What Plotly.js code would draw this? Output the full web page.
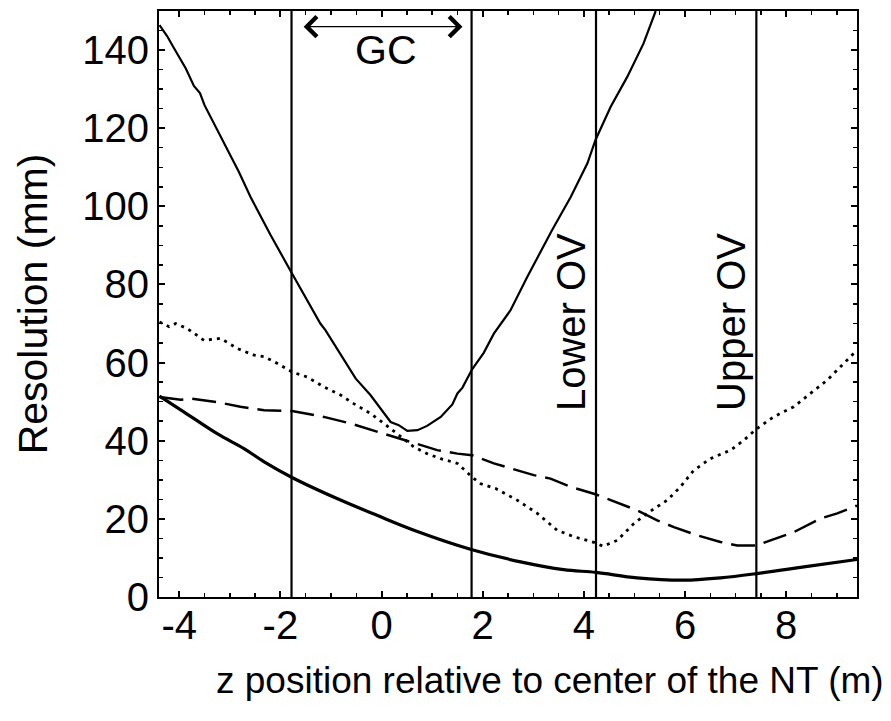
<!DOCTYPE html>
<html>
<head>
<meta charset="utf-8">
<script src="https://cdn.plot.ly/plotly-3.0.1.min.js"></script>
<style>html,body{margin:0;padding:0;background:#fff;}#chart{width:891px;height:721px;}</style>
</head>
<body>
<div id="chart"></div>
<script>
// Thin solid curve (steep V)
const vX = [-4.39,-4.24,-4.10,-3.87,-3.71,-3.59,-3.50,-3.22,-2.82,-2.59,-2.20,-1.77,-1.47,-1.21,-1.11,-0.88,-0.51,-0.22,0.05,0.18,0.34,0.51,0.71,0.90,1.17,1.40,1.50,1.60,1.79,2.02,2.22,2.55,2.88,3.37,3.74,4.07,4.23,4.43,4.53,4.86,5.18,5.42];
const vY = [146.4,143.6,140.4,135.3,130.8,129.0,125.9,118.7,108.8,102.4,92.8,82.8,76.0,70.0,68.3,63.6,55.9,51.7,47.0,44.8,44.0,42.5,42.7,43.8,46.1,49.3,52.1,53.6,58.3,62.5,67.4,73.4,81.9,93.9,102.4,111.0,117.0,122.9,125.5,133.2,141.7,150.0];
// Dotted curve
const dotX = [-4.39,-4.20,-4.07,-3.84,-3.51,-3.18,-2.85,-2.52,-2.32,-2.06,-1.77,-1.47,-1.14,-0.81,-0.55,-0.22,0.05,0.31,0.64,0.90,1.17,1.50,1.79,1.96,2.25,2.68,3.08,3.47,3.81,4.20,4.38,4.66,4.99,5.25,5.65,5.91,6.17,6.50,6.90,7.16,7.42,7.75,8.15,8.48,8.81,9.40];
const dotY = [70.4,69.2,70.0,68.7,65.7,66.2,63.6,61.9,61.5,59.8,57.6,56.3,53.8,51.7,49.5,47.0,44.4,41.8,38.4,36.7,35.4,34.2,30.7,29.0,27.8,24.8,21.4,17.1,15.4,14.0,13.0,14.5,18.8,21.4,24.8,28.2,32.4,35.4,37.6,40.1,43.1,46.1,48.7,52.1,55.5,63.2];
// Dashed curve
const dashX = [-4.39,-3.97,-3.77,-3.25,-2.79,-2.32,-1.77,-1.53,-1.14,-0.61,-0.09,0.44,0.77,1.10,1.50,1.79,2.22,2.55,3.01,3.34,3.74,4.23,4.72,5.05,5.45,5.78,6.24,6.70,7.03,7.42,7.69,8.15,8.68,9.01,9.40];
const dashY = [51.2,50.5,50.8,49.9,48.7,47.8,47.6,47.1,46.1,44.4,42.3,40.1,38.8,37.6,36.7,36.3,34.2,32.9,31.2,30.3,28.2,26.3,23.9,22.2,19.6,17.9,15.8,14.1,13.2,13.2,14.5,16.6,20.1,21.4,23.4];
// Thick solid curve
const thickX = [-4.39,-3.91,-3.25,-2.72,-2.32,-1.77,-0.88,-0.09,0.64,1.79,2.75,3.60,4.24,5.05,5.98,6.70,7.42,8.35,9.40];
const thickY = [51.4,47.4,41.8,38.0,34.6,30.6,25.2,20.9,17.1,12.1,9.0,7.0,6.3,4.9,4.3,4.9,6.0,7.7,9.6];
// Vertical boundary lines
const vlines = [-1.78, 1.78, 4.24, 7.41];
// Tick labels
const xTickVals = [-4,-2,0,2,4,6,8];
const xTickText = ["-4","-2","0","2","4","6","8"];
const yTickVals = [0,20,40,60,80,100,120,140];
const yTickText = ["0","20","40","60","80","100","120","140"];
// GC arrow span
const gcArrow = [-1.57, 1.60];

const FONT = "Liberation Sans, Arial, Helvetica, sans-serif";
const traces = [];
vlines.forEach(v => traces.push({x:[v,v], y:[0,150], mode:'lines', line:{color:'#000', width:2.2}, showlegend:false, hoverinfo:'skip'}));
traces.push({x:vX, y:vY, mode:'lines', line:{color:'#000', width:2.2}, showlegend:false});
traces.push({x:dotX, y:dotY, mode:'lines', line:{color:'#000', width:2.8, dash:'3px,5px'}, showlegend:false});
traces.push({x:dashX, y:dashY, mode:'lines', line:{color:'#000', width:2.5, dash:'24px,9px'}, showlegend:false});
traces.push({x:thickX, y:thickY, mode:'lines', line:{color:'#000', width:3.2, shape:'spline'}, showlegend:false});

const layout = {
  width: 891, height: 721,
  margin: {l:159, r:34, t:11, b:124},
  paper_bgcolor:'#fff', plot_bgcolor:'#fff',
  font: {family: FONT, color:'#000', size: 40},
  xaxis: {
    range: [-4.4, 9.4], showgrid:false, zeroline:false,
    showline:true, linewidth:2, linecolor:'#000', mirror:'ticks',
    ticks:'inside', ticklen:6, tickwidth:2, tickcolor:'#000',
    tickvals: xTickVals, ticktext: xTickText, ticklabelstandoff:-8,
    tickfont:{family:FONT, size:40, color:'#000'},
    minor:{dtick:0.5, tick0:0, ticks:'inside', ticklen:4, tickwidth:1.5, tickcolor:'#000', showgrid:false}
  },
  yaxis: {
    range: [0, 150], showgrid:false, zeroline:false,
    showline:true, linewidth:2, linecolor:'#000', mirror:'ticks',
    ticks:'inside', ticklen:6, tickwidth:2, tickcolor:'#000',
    tickvals: yTickVals, ticktext: yTickText,
    tickfont:{family:FONT, size:40, color:'#000'},
    minor:{dtick:5, tick0:0, ticks:'inside', ticklen:4, tickwidth:1.5, tickcolor:'#000', showgrid:false}
  },
  annotations: [
    {x:gcArrow[1], y:146, ax:gcArrow[0], ay:146, xref:'x', yref:'y', axref:'x', ayref:'y',
     text:'', showarrow:true, arrowside:'end+start', arrowhead:4, arrowsize:3, arrowwidth:1.3, arrowcolor:'#000'},
    {x:0.08, y:140, xref:'x', yref:'y', text:'GC', showarrow:false, font:{size:41, family:FONT, color:'#000'}},
    {x:3.76, y:70.3, xref:'x', yref:'y', text:'Lower OV', textangle:-90, showarrow:false, font:{size:40, family:FONT, color:'#000'}},
    {x:6.92, y:70.3, xref:'x', yref:'y', text:'Upper OV', textangle:-90, showarrow:false, font:{size:40, family:FONT, color:'#000'}},
    {x:0.56, y:-0.142, xref:'paper', yref:'paper', xanchor:'center', yanchor:'middle',
     text:'z position relative to center of the NT (m)', showarrow:false, font:{size:37, family:FONT, color:'#000'}},
    {x:-0.18, y:0.5, xref:'paper', yref:'paper', xanchor:'center', yanchor:'middle', textangle:-90,
     text:'Resolution (mm)', showarrow:false, font:{size:41, family:FONT, color:'#000'}}
  ]
};
Plotly.newPlot('chart', traces, layout, {staticPlot:true, displayModeBar:false});
</script>
</body>
</html>
